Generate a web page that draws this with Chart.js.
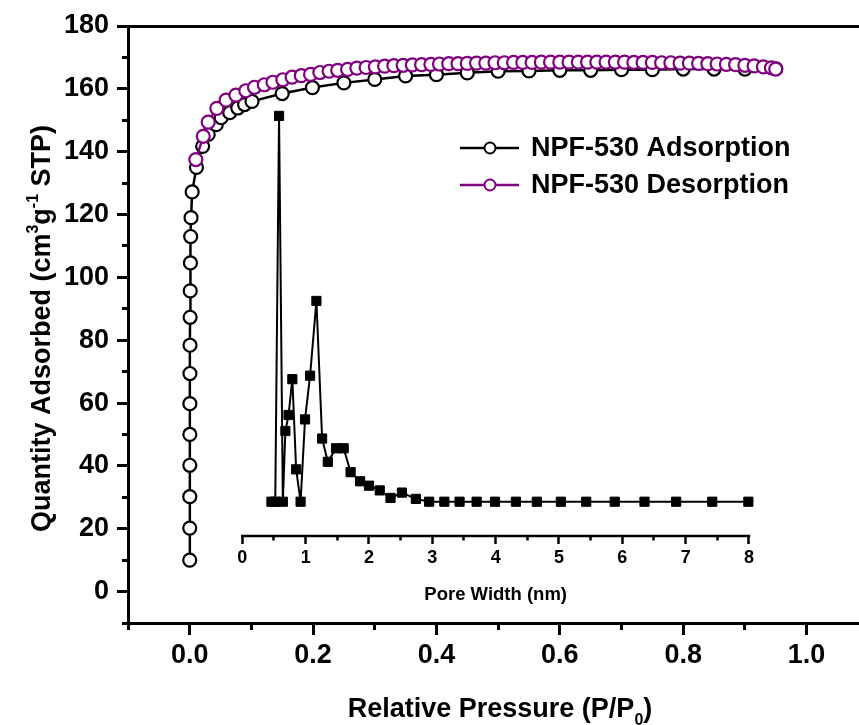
<!DOCTYPE html>
<html>
<head>
<meta charset="utf-8">
<title>NPF-530 isotherm</title>
<script src="https://cdn.jsdelivr.net/npm/chart.js@4/dist/chart.umd.min.js"></script>
<style>
  body { margin: 0; background: #fff; }
  canvas { display: block; }
</style>
</head>
<body>
<canvas id="isoChart" width="859" height="725"></canvas>
<script>
// N2 isotherm at 77 K
const adsP = [0.00004, 0.00008, 0.00012, 0.00017, 0.00023, 0.0003, 0.0004, 0.0005, 0.0007, 0.0009,
  0.0012, 0.0016, 0.0022, 0.004, 0.011, 0.021, 0.030, 0.043, 0.051, 0.065, 0.078, 0.089, 0.101,
  0.150, 0.199, 0.250, 0.300, 0.350, 0.400, 0.450, 0.500, 0.550, 0.600, 0.650, 0.700, 0.750,
  0.800, 0.850, 0.900, 0.950];
const adsQ = [10.0, 20.2, 30.2, 40.2, 50.0, 59.8, 69.4, 78.4, 87.3, 95.7,
  104.6, 113.0, 119.0, 127.2, 135.0, 141.7, 145.5, 148.6, 150.8, 152.4, 153.9, 155.0, 156.0,
  158.5, 160.4, 161.9, 163.0, 164.1, 164.5, 165.1, 165.6, 165.7, 165.9, 165.9, 166.1, 166.1,
  166.3, 166.3, 166.3, 166.4];

const desP = [0.010, 0.022, 0.030, 0.044, 0.059, 0.075, 0.091, 0.105, 0.121, 0.135, 0.151, 0.166,
  0.181, 0.196, 0.211, 0.226, 0.240, 0.256, 0.271, 0.286, 0.301, 0.316, 0.331, 0.346, 0.361,
  0.376, 0.391, 0.405, 0.420, 0.435, 0.450, 0.465, 0.480, 0.495, 0.510, 0.525, 0.540, 0.555,
  0.570, 0.585, 0.600, 0.615, 0.630, 0.645, 0.660, 0.675, 0.690, 0.705, 0.720, 0.735, 0.750,
  0.765, 0.780, 0.795, 0.810, 0.825, 0.840, 0.855, 0.870, 0.885, 0.900, 0.915, 0.930, 0.943, 0.950];
const desQ = [137.5, 144.9, 149.4, 153.8, 156.4, 158.0, 159.4, 160.5, 161.3, 162.1, 162.9, 163.7,
  164.2, 164.6, 165.2, 165.6, 165.9, 166.2, 166.6, 166.8, 167.0, 167.2, 167.4, 167.5, 167.6,
  167.7, 167.8, 167.9, 168.0, 168.0, 168.1, 168.2, 168.2, 168.3, 168.3, 168.4, 168.4, 168.4,
  168.5, 168.5, 168.5, 168.5, 168.5, 168.5, 168.5, 168.5, 168.5, 168.5, 168.4, 168.4, 168.4,
  168.3, 168.3, 168.2, 168.2, 168.1, 168.0, 167.9, 167.8, 167.7, 167.5, 167.3, 167.0, 166.7, 166.3];

// inset: pore size distribution (no y scale printed, arbitrary units)
const poreW = [0.46, 0.52, 0.58, 0.64, 0.68, 0.73, 0.79, 0.85, 0.92, 0.99, 1.07, 1.17, 1.26, 1.35,
  1.48, 1.60, 1.71, 1.86, 2.00, 2.17, 2.34, 2.52, 2.74, 2.95, 3.19, 3.43, 3.70, 3.99, 4.32, 4.65,
  5.03, 5.43, 5.88, 6.35, 6.85, 7.42, 7.99];
const poreV = [0, 0, 122.8, 0, 22.5, 27.6, 39.0, 10.3, 0, 26.2, 40.1, 63.9, 20.1, 12.7,
  17.0, 17.0, 9.4, 6.5, 5.1, 3.6, 1.2, 2.9, 0.9, 0, 0, 0, 0, 0, 0, 0,
  0, 0, 0, 0, 0, 0, 0];

// ticks
const xTicks = [0, 0.2, 0.4, 0.6, 0.8, 1.0];
const xMinorTicks = [-0.1, 0.1, 0.3, 0.5, 0.7, 0.9];
const yTicks = [0, 20, 40, 60, 80, 100, 120, 140, 160, 180];
const yMinorTicks = [-10, 10, 30, 50, 70, 90, 110, 130, 150, 170];
const poreTicks = [0, 1, 2, 3, 4, 5, 6, 7, 8];
const poreMinorTicks = [0.5, 1.5, 2.5, 3.5, 4.5, 5.5, 6.5, 7.5];
const poreAxisAt = 17.7; // inset axis sits at this main-y value

const FONT = '"Liberation Sans", Arial, sans-serif';
const PURPLE = '#800080';

const toPoints = (xs, ys) => xs.map((x, i) => ({ x: x, y: ys[i] }));
const fixedTicks = vals => scale => { scale.ticks = vals.map(v => ({ value: v })); };

Chart.defaults.font.family = FONT;
Chart.defaults.font.weight = 'bold';
Chart.defaults.color = '#000';

function drawRich(ctx, parts, cx, baseY, size) {
  const big = `bold ${size}px ${FONT}`;
  const small = `bold ${Math.round(size * 0.6)}px ${FONT}`;
  let w = 0;
  parts.forEach(([t, k]) => { ctx.font = k ? small : big; w += ctx.measureText(t).width; });
  let x = cx - w / 2;
  ctx.textAlign = 'left';
  ctx.textBaseline = 'alphabetic';
  parts.forEach(([t, k]) => {
    ctx.font = k ? small : big;
    const dy = k === 'sup' ? -size * 0.46 : (k === 'sub' ? size * 0.3 : 0);
    ctx.fillText(t, x, baseY + dy);
    x += ctx.measureText(t).width;
  });
}

// axis titles, inset axis line and the legend
const extras = {
  id: 'extras',
  afterDraw(chart) {
    const ctx = chart.ctx;
    const area = chart.chartArea;
    const xp = chart.scales.xPore;
    const yAxisPx = chart.scales.y.getPixelForValue(poreAxisAt);
    const x0 = xp.getPixelForValue(poreTicks[0]);
    const x8 = xp.getPixelForValue(poreTicks[poreTicks.length - 1]);
    ctx.save();
    ctx.fillStyle = '#000';
    ctx.strokeStyle = '#000';

    ctx.lineWidth = 2.5;
    ctx.beginPath();
    ctx.moveTo(x0 - 1.25, yAxisPx);
    ctx.lineTo(x8 + 1.25, yAxisPx);
    ctx.stroke();

    ctx.font = `bold 18.5px ${FONT}`;
    ctx.textAlign = 'center';
    ctx.textBaseline = 'middle';
    ctx.fillText('Pore Width (nm)', (x0 + x8) / 2, yAxisPx + 59);

    drawRich(ctx, [['Relative Pressure (P/P', ''], ['0', 'sub'], [')', '']], 500, 717, 27);

    ctx.save();
    ctx.translate(50, (area.top + area.bottom) / 2 + 4);
    ctx.rotate(-Math.PI / 2);
    drawRich(ctx, [['Quantity Adsorbed (cm', ''], ['3', 'sup'], ['g', ''], ['-1', 'sup'], [' STP)', '']], 0, 0, 27);
    ctx.restore();

    const items = [
      { text: 'NPF-530 Adsorption', color: '#000', y: 148 },
      { text: 'NPF-530 Desorption', color: PURPLE, y: 185 }
    ];
    items.forEach(it => {
      ctx.strokeStyle = it.color;
      ctx.lineWidth = 2.5;
      ctx.beginPath();
      ctx.moveTo(460, it.y);
      ctx.lineTo(519, it.y);
      ctx.stroke();
      ctx.beginPath();
      ctx.arc(490, it.y, 5.5, 0, Math.PI * 2);
      ctx.fillStyle = '#fff';
      ctx.fill();
      ctx.lineWidth = 2;
      ctx.stroke();
      ctx.fillStyle = '#000';
      ctx.font = `bold 27px ${FONT}`;
      ctx.textAlign = 'left';
      ctx.textBaseline = 'middle';
      ctx.fillText(it.text, 531, it.y + 1);
    });
    ctx.restore();
  }
};

const tickOnly = (len, width) => ({
  display: true, drawOnChartArea: false, drawTicks: true,
  tickLength: len, tickWidth: width, tickColor: '#000'
});

new Chart(document.getElementById('isoChart'), {
  type: 'scatter',
  data: {
    datasets: [
      {
        label: 'NPF-530 Desorption',
        data: toPoints(desP, desQ),
        xAxisID: 'x', yAxisID: 'y',
        showLine: true,
        borderColor: PURPLE, borderWidth: 2.5,
        pointRadius: 6.5, pointBorderWidth: 2.2,
        pointBackgroundColor: '#fff', pointBorderColor: PURPLE,
        order: 0
      },
      {
        label: 'NPF-530 Adsorption',
        data: toPoints(adsP, adsQ),
        xAxisID: 'x', yAxisID: 'y',
        showLine: true,
        borderColor: '#000', borderWidth: 2.5,
        pointRadius: 6.5, pointBorderWidth: 2.2,
        pointBackgroundColor: '#fff', pointBorderColor: '#000',
        order: 1
      },
      {
        label: 'Pore width',
        data: toPoints(poreW, poreV),
        xAxisID: 'xPore', yAxisID: 'yPore',
        showLine: true,
        borderColor: '#000', borderWidth: 2,
        pointStyle: 'rect', pointRadius: 6.5, pointBorderWidth: 1,
        pointBackgroundColor: '#000', pointBorderColor: '#000',
        order: 2
      }
    ]
  },
  options: {
    responsive: false,
    animation: false,
    events: [],
    layout: { autoPadding: false, padding: { top: 26, left: 0, right: 0, bottom: 0 } },
    plugins: { legend: { display: false }, tooltip: { enabled: false } },
    scales: {
      x: {
        type: 'linear', position: 'bottom',
        min: -0.1, max: 1.085,
        afterFit: s => { s.height = 102; },
        afterBuildTicks: fixedTicks(xTicks),
        grid: tickOnly(12, 3),
        border: { display: true, width: 3, color: '#000' },
        ticks: { font: { size: 27, weight: 'bold' }, padding: 4, maxRotation: 0, autoSkip: false,
          callback: v => v.toFixed(1) }
      },
      xMinor: {
        type: 'linear', axis: 'x', position: { y: -10 },
        min: -0.1, max: 1.085,
        afterBuildTicks: fixedTicks(xMinorTicks),
        grid: tickOnly(7, 3),
        border: { display: false },
        ticks: { display: false }
      },
      xTop: {
        type: 'linear', axis: 'x', position: { y: 180 },
        min: -0.1, max: 1.085,
        grid: { display: true, drawOnChartArea: false, drawTicks: false },
        border: { display: true, width: 3, color: '#000' },
        ticks: { display: false }
      },
      y: {
        type: 'linear', position: 'left',
        min: -10, max: 180,
        afterFit: s => { s.width = 128; },
        afterBuildTicks: fixedTicks(yTicks),
        grid: tickOnly(11, 3),
        border: { display: true, width: 3, color: '#000' },
        ticks: { font: { size: 27, weight: 'bold' }, padding: 8, autoSkip: false }
      },
      yMinor: {
        type: 'linear', axis: 'y', position: { x: -0.1 },
        min: -10, max: 180,
        afterBuildTicks: fixedTicks(yMinorTicks),
        grid: tickOnly(6, 3),
        border: { display: false },
        ticks: { display: false }
      },
      xPore: {
        type: 'linear', axis: 'x', position: { y: poreAxisAt },
        min: -1.805, max: 9.737,
        afterBuildTicks: fixedTicks(poreTicks),
        grid: tickOnly(8, 2.5),
        border: { display: false },
        ticks: { font: { size: 18, weight: 'bold' }, padding: 3, maxRotation: 0, autoSkip: false }
      },
      xPoreMinor: {
        type: 'linear', axis: 'x', position: { y: poreAxisAt },
        min: -1.805, max: 9.737,
        afterBuildTicks: fixedTicks(poreMinorTicks),
        grid: tickOnly(4.5, 2.5),
        border: { display: false },
        ticks: { display: false }
      },
      yPore: {
        type: 'linear', axis: 'y', position: 'left',
        display: false,
        min: -38.6, max: 151.4
      }
    }
  },
  plugins: [extras]
});
</script>
</body>
</html>
